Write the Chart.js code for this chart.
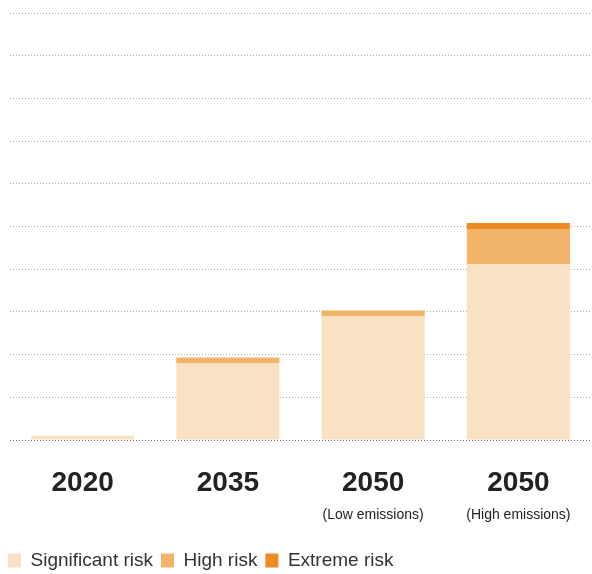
<!DOCTYPE html>
<html>
<head>
<meta charset="utf-8">
<script src="https://cdn.jsdelivr.net/npm/chart.js@4"></script>
<style>
  html, body { margin: 0; padding: 0; background: #fff; overflow: hidden; }
</style>
</head>
<body>
<canvas id="chart" width="592" height="580"></canvas>
<script>
// values (one gridline = 10)
const years = ['2020', '2035', '2050', '2050'];
const scenarios = ['', '', '(Low emissions)', '(High emissions)'];
const significantRisk = [1.0, 17.9, 28.9, 41.2];
const highRisk = [0, 1.4, 1.4, 8.2];
const extremeRisk = [0, 0, 0, 1.4];

const COLORS = {
    significant: 'rgb(249, 225, 196)',
    high: 'rgb(242, 180, 104)',
    extreme: 'rgb(238, 139, 34)'
};

function barSet(label, data, color) {
    return {
        label: label,
        data: data,
        backgroundColor: color,
        borderWidth: 0,
        barPercentage: 0.71,
        categoryPercentage: 1
    };
}

new Chart(document.getElementById('chart'), {
    type: 'bar',
    data: {
        labels: years,
        datasets: [
            barSet('Significant risk', significantRisk, COLORS.significant),
            barSet('High risk', highRisk, COLORS.high),
            barSet('Extreme risk', extremeRisk, COLORS.extreme)
        ]
    },
    options: {
        responsive: false,
        animation: false,
        layout: { padding: { top: 13, left: 0, right: 1, bottom: 0 } },
        plugins: {
            tooltip: { enabled: false },
            legend: {
                position: 'bottom',
                align: 'start',
                title: { display: true, text: '', font: { size: 10 }, padding: { top: 0, bottom: 9 } },
                labels: {
                    boxWidth: 13,
                    boxHeight: 14,
                    padding: 8,
                    color: '#333',
                    font: { family: 'Liberation Sans, Arial, sans-serif', size: 19 }
                }
            }
        },
        scales: {
            x: {
                stacked: true,
                grid: { display: false, drawTicks: false },
                border: { display: false },
                afterFit: (axis) => { axis.height = 60; },
                ticks: {
                    padding: 26,
                    color: '#222',
                    font: { family: 'Liberation Sans, Arial, sans-serif', size: 28, weight: 'bold' }
                }
            },
            x2: {
                type: 'category',
                labels: scenarios,
                position: 'bottom',
                grid: { display: false, drawTicks: false },
                border: { display: false },
                afterFit: (axis) => { axis.height = 22; },
                ticks: {
                    padding: 7,
                    color: '#222',
                    font: { family: 'Liberation Sans, Arial, sans-serif', size: 14 }
                }
            },
            y: {
                stacked: true,
                min: 0,
                max: 100,
                z: 1,
                afterFit: (axis) => { axis.width = 10; },
                ticks: { display: false, stepSize: 10 },
                grid: {
                    drawTicks: false,
                    color: (ctx) => ctx.tick && ctx.tick.value === 0 ? '#666' : '#aaa',
                    lineWidth: 1
                },
                border: { display: false, dash: [1, 2] }
            }
        }
    }
});
</script>
</body>
</html>
